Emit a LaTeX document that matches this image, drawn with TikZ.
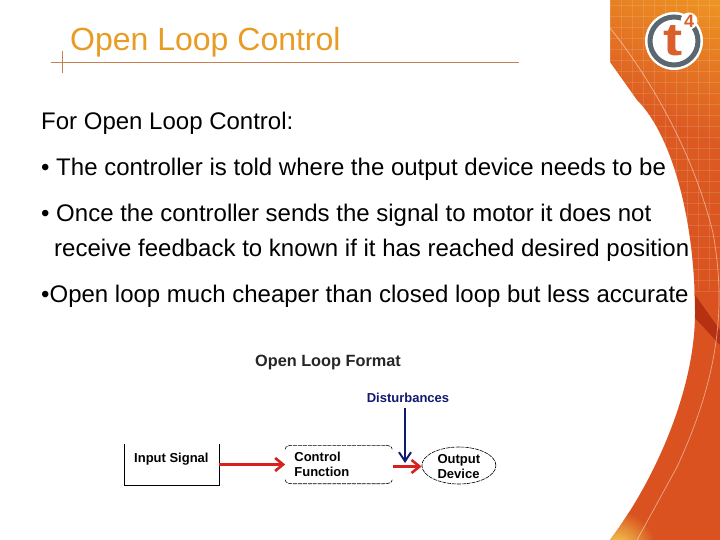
\documentclass[tikz,border=0pt]{standalone}
\usepackage{fontspec}
\setmainfont{Liberation Sans}
\usepackage{xcolor}
\usetikzlibrary{positioning,shapes.geometric,arrows.meta}
\definecolor{titleorange}{HTML}{E89C24}
\definecolor{ruleorange}{HTML}{C9804F}
\definecolor{ringgrey}{HTML}{5A6670}
\definecolor{logoorange}{HTML}{D9602A}
\definecolor{swooshtop}{HTML}{F2A324}
\definecolor{swooshmid}{HTML}{DC5A22}
\definecolor{swooshlow}{HTML}{D9521F}
\definecolor{arrowred}{HTML}{D8201E}
\definecolor{arrowblue}{HTML}{101870}
\tikzset{
  bodytext/.style={anchor=base west,inner sep=0pt,font=\fontsize{24}{28}\selectfont},
  flowtext/.style={font=\bfseries\fontsize{13}{15}\selectfont,align=left,inner sep=0pt},
  redflow/.style={draw=arrowred,line width=2.6pt,-{Straight Barb[length=8pt,width=13pt]}},
  blueflow/.style={draw=arrowblue,line width=2pt,-{Straight Barb[length=9pt,width=12pt]}},
  dashline/.style={draw=black,line width=0.6pt,dash pattern=on 4pt off 0.9pt}
}
\begin{document}
\begin{tikzpicture}[x=1pt,y=-1pt]
  \useasboundingbox (0,0) rectangle (720,540);
  \fill[white] (0,0) rectangle (720,540);

  % swoosh on the right
  \begin{scope}
    \clip (610,0) -- (610,62) -- (637,100) .. controls (672,135) and (695,220) .. (695,313)
      .. controls (695,390) and (655,480) .. (610,540) -- (720,540) -- (720,0) -- cycle;
    \shade[top color=swooshtop,bottom color=swooshlow,middle color=swooshmid,shading angle=-25]
      (540,-60) rectangle (790,300);
    \fill[swooshlow] (600,290) rectangle (720,540);
    \shade[inner color=yellow!60!white,outer color=swooshlow,opacity=.8] (616,550) circle (40);
    \fill[red!50!black,opacity=.4] (695,295) -- (720,330) -- (720,345) -- (695,318) -- cycle;
    \foreach \i in {0,...,11}
      \draw[white,opacity=.12,line width=.5pt] (610+\i*11,0) -- (610+\i*11,290);
    \foreach \j in {0,...,26}
      \draw[white,opacity=.12,line width=.5pt] (600,\j*11+5) -- (720,\j*11+5);
    \draw[white,opacity=.5,line width=.7pt] (610,28) .. controls (640,65) and (690,140) .. (713,233)
      .. controls (725,300) and (722,370) .. (677,467) -- (637,540);
  \end{scope}

  % logo
  \node[circle,fill=white,minimum size=58pt,inner sep=0pt] (logo) at (674,41) {};
  \node[circle,draw=ringgrey,line width=5pt,fill=white,minimum size=48pt,inner sep=0pt] (ring) at (674,41) {};
  \node[font=\bfseries\fontsize{46}{46}\selectfont,text=logoorange,inner sep=0pt,xscale=1.25] (tee) at (673,41) {t};
  \node[circle,fill=white,minimum size=17pt,inner sep=0pt] (halo) at (689,21) {};
  \node[font=\bfseries\fontsize{18}{18}\selectfont,text=logoorange,inner sep=0pt] (four) at (689,21) {4};

  % title
  \node[anchor=base west,inner sep=0pt,text=titleorange,font=\fontsize{32}{36}\selectfont] (title) at (70,51) {Open Loop Control};
  \coordinate (rulel) at (51,62);
  \coordinate (ruler) at (519,62);
  \coordinate (tickt) at (62,51);
  \coordinate (tickb) at (62,73);
  \draw[ruleorange,line width=.8pt] (rulel) -- (ruler);
  \draw[ruleorange,line width=.8pt] (tickt) -- (tickb);

  % text
  \node[bodytext] (intro) at (41,129.5) {For Open Loop Control:};
  \node[bodytext] (bulleta) at (41,175.5) {• The controller is told where the output device needs to be};
  \node[bodytext] (bulletb) at (41,221.5) {• Once the controller sends the signal to motor it does not};
  \node[bodytext] (bulletc) at (54,256.5) {receive feedback to known if it has reached desired position};
  \node[bodytext] (bulletd) at (41,302.5) {•Open loop much cheaper than closed loop but less accurate};

  % diagram
  \node[font=\bfseries\fontsize{16.3}{18}\selectfont,text=black!85,inner sep=0pt] (format) at (328,362) {Open Loop Format};
  \node[flowtext,minimum width=94pt,minimum height=41pt] (input) at (172,464.5) {};
  \node[flowtext,anchor=north west] (inputl) at (134,453) {Input Signal};
  \node[minimum width=107pt,minimum height=38pt,inner sep=0pt] (control) [right=66pt of input] {};
  \node[flowtext,anchor=west] at (control.west) [xshift=9pt] (controll) {Control\\Function};
  \node[ellipse,dashline,minimum width=74pt,minimum height=37pt,inner sep=0pt] (output) [right=29pt of control,yshift=-1pt] {};
  \node[flowtext] at (output) [yshift=-1.5pt] (outputl) {Output\\Device};
  \node[flowtext,text=arrowblue,inner ysep=5pt] (dist) at (408,398) {Disturbances};
  \coordinate (distend) at (405,463);

  \draw[black,line width=.7pt] (input.north west) -- (input.south west) -- (input.south east) -- (input.north east);
  \draw[dashline] (control.north west) ++(0,4) to[out=90,in=180] ++(8,-4) -- ++(91,0) to[out=0,in=90] ++(8,4);
  \draw[dashline] (control.south west) ++(0,-4) to[out=-90,in=180] ++(8,4) -- ++(91,0) to[out=0,in=-90] ++(8,-4);

  \draw[redflow] (input.east) -- (control.west);
  \draw[redflow] ([yshift=-2pt]control.east) -- ([yshift=-1pt]output.west);
  \draw[blueflow] (dist.south -| distend) -- (distend);
\end{tikzpicture}
\end{document}
